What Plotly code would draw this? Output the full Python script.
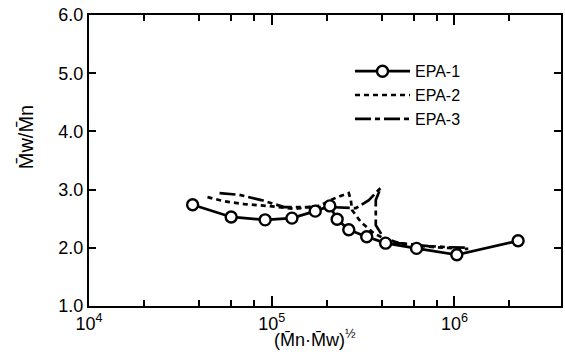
import plotly.graph_objects as go

# EPA-1 (solid line, open circles)
epa1_x = [3.69e4, 6.0e4, 9.2e4, 1.29e5, 1.73e5, 2.08e5, 2.28e5, 2.64e5, 3.31e5, 4.2e5, 6.2e5, 1.03e6, 2.23e6]
epa1_y = [2.74, 2.53, 2.48, 2.51, 2.63, 2.72, 2.49, 2.31, 2.19, 2.08, 1.99, 1.88, 2.12]

# EPA-2 (short dashes)
epa2_x = [4.45e4, 5.5e4, 7.08e4, 9.44e4, 1.33e5, 1.82e5, 2.24e5, 2.64e5, 2.71e5, 2.75e5, 3.08e5, 3.62e5, 4.48e5, 6.37e5, 8.7e5, 1.19e6]
epa2_y = [2.87, 2.80, 2.75, 2.72, 2.67, 2.72, 2.86, 2.94, 2.82, 2.65, 2.44, 2.25, 2.10, 2.03, 2.00, 1.98]

# EPA-3 (long-short dashes)
epa3_x = [5.18e4, 6.65e4, 8.77e4, 1.17e5, 1.50e5, 2.06e5, 2.89e5, 3.40e5, 3.95e5, 3.71e5, 3.71e5, 4.1e5, 4.95e5, 7.2e5, 9.27e5, 1.19e6]
epa3_y = [2.94, 2.91, 2.82, 2.70, 2.70, 2.70, 2.68, 2.82, 3.03, 2.82, 2.39, 2.17, 2.08, 2.03, 2.01, 2.00]

x_tickvals = [1e4, 1e5, 1e6]
x_ticktext = ["10<sup>4</sup>", "10<sup>5</sup>", "10<sup>6</sup>"]
x_minor = [m * d for d in (1e4, 1e5, 1e6) for m in (2, 4, 6, 8)]
y_tickvals = [1, 2, 3, 4, 5, 6]
y_ticktext = ["1.0", "2.0", "3.0", "4.0", "5.0", "6.0"]

FONT = "Liberation Sans, Arial, sans-serif"

fig = go.Figure()
fig.add_trace(go.Scatter(
    x=epa2_x, y=epa2_y, mode="lines", name="EPA-2", legendrank=2,
    line=dict(color="black", width=2.7, dash="5px,4px")))
fig.add_trace(go.Scatter(
    x=epa3_x, y=epa3_y, mode="lines", name="EPA-3", legendrank=3,
    line=dict(color="black", width=2.7, dash="16px,4px,5px,4px")))
fig.add_trace(go.Scatter(
    x=epa1_x, y=epa1_y, mode="lines+markers", name="EPA-1", legendrank=1,
    line=dict(color="black", width=2.7),
    marker=dict(symbol="circle", size=11, color="white",
                line=dict(color="black", width=2.4))))

fig.update_layout(
    width=565, height=354,
    margin=dict(l=89, r=2, t=15, b=48),
    paper_bgcolor="white", plot_bgcolor="white",
    font=dict(family=FONT, size=16, color="black"),
    showlegend=True,
    legend=dict(x=0.553, y=0.865, xanchor="left", yanchor="top",
                bgcolor="rgba(0,0,0,0)", font=dict(size=16),
                traceorder="normal", tracegroupgap=0,
                itemwidth=55),
    xaxis=dict(
        type="log", range=[4, 6.583],
        tickvals=x_tickvals, ticktext=x_ticktext,
        ticks="inside", ticklen=10, tickwidth=2, tickcolor="black",
        showline=True, linewidth=2, linecolor="black", mirror="ticks",
        showgrid=False, zeroline=False,
        minor=dict(tickvals=x_minor, ticks="inside", ticklen=6,
                   tickwidth=2, tickcolor="black", showgrid=False),
        tickfont=dict(size=18),
    ),
    yaxis=dict(
        range=[1, 6],
        tickvals=y_tickvals, ticktext=y_ticktext,
        ticks="inside", ticklen=7, tickwidth=2, tickcolor="black",
        showline=True, linewidth=2, linecolor="black", mirror="ticks",
        showgrid=False, zeroline=False,
        tickfont=dict(size=18),
    ),
)

fig.add_annotation(
    text="(M\u0304n\u00b7M\u0304w)<sup>\u00bd</sup>",
    xref="paper", yref="paper", x=(316 - 89) / 474, y=-(338 - 306) / 291,
    showarrow=False, font=dict(size=18), xanchor="center", yanchor="middle")
fig.add_annotation(
    text="M\u0304w/M\u0304n",
    xref="paper", yref="paper", x=-(89 - 26) / 474, y=(306 - 137) / 291,
    showarrow=False, textangle=-90, font=dict(size=20),
    xanchor="center", yanchor="middle")

fig.write_html("out.html")
